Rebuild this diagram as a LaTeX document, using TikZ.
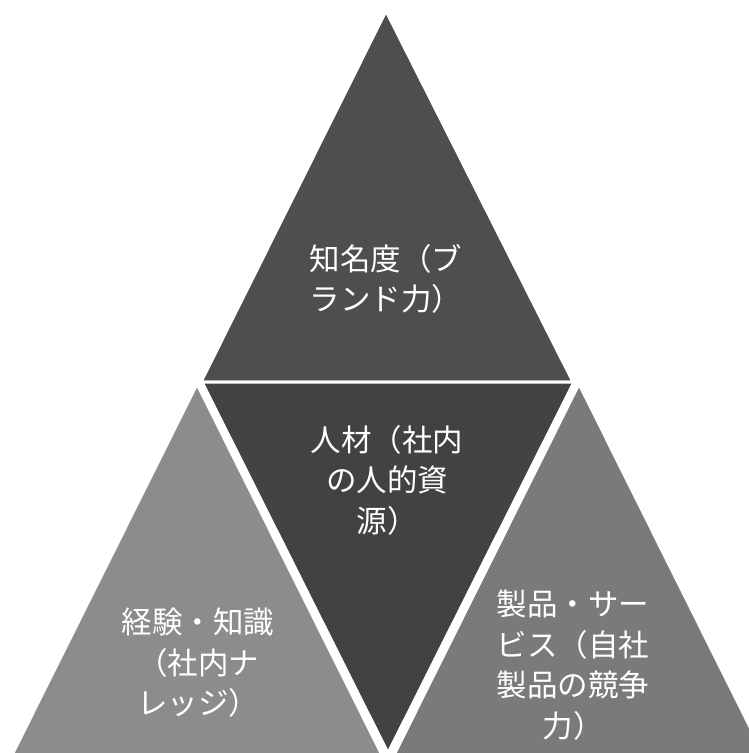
\documentclass[tikz,border=0pt]{standalone}
\usepackage{fontspec}
\newfontfamily\cjk{Noto Sans CJK JP}
\definecolor{topgray}{RGB}{78,78,78}
\definecolor{midgray}{RGB}{66,66,66}
\definecolor{leftgray}{RGB}{140,140,140}
\definecolor{rightgray}{RGB}{122,122,122}
\begin{document}
\begin{tikzpicture}[x=1pt,y=-1pt,
  tri/.style={draw=white,line width=3pt,line join=miter},
  lbl/.style={text=white,font=\cjk\fontsize{30.5}{40.5}\selectfont,align=center,inner sep=0pt}]
\useasboundingbox (0,0) rectangle (749,753);
\fill[white] (0,0) rectangle (749,753);
\begin{scope}
\clip (0,0) rectangle (749,753);
\filldraw[tri,fill=topgray] (386,11) -- (201,382) -- (573,382) -- cycle;
\filldraw[tri,fill=midgray] (202,382) -- (574,382) -- (388,753) -- cycle;
\filldraw[tri,fill=leftgray] (197,384) -- (12,755) -- (382,755) -- cycle;
\filldraw[tri,fill=rightgray] (579,384) -- (394,755) -- (764,755) -- cycle;
\end{scope}
\node[lbl] (top) at (386,279) {知名度（ブ\\ランド力）};
\node[lbl] (mid) at (387,480) {人材（社内\\の人的資\\源）};
\node[lbl] (left) at (198,663) {経験・知識\\（社内ナ\\レッジ）};
\node[lbl] (right) at (573,665) {製品・サー\\ビス（自社\\製品の競争\\力）};
\end{tikzpicture}
\end{document}
